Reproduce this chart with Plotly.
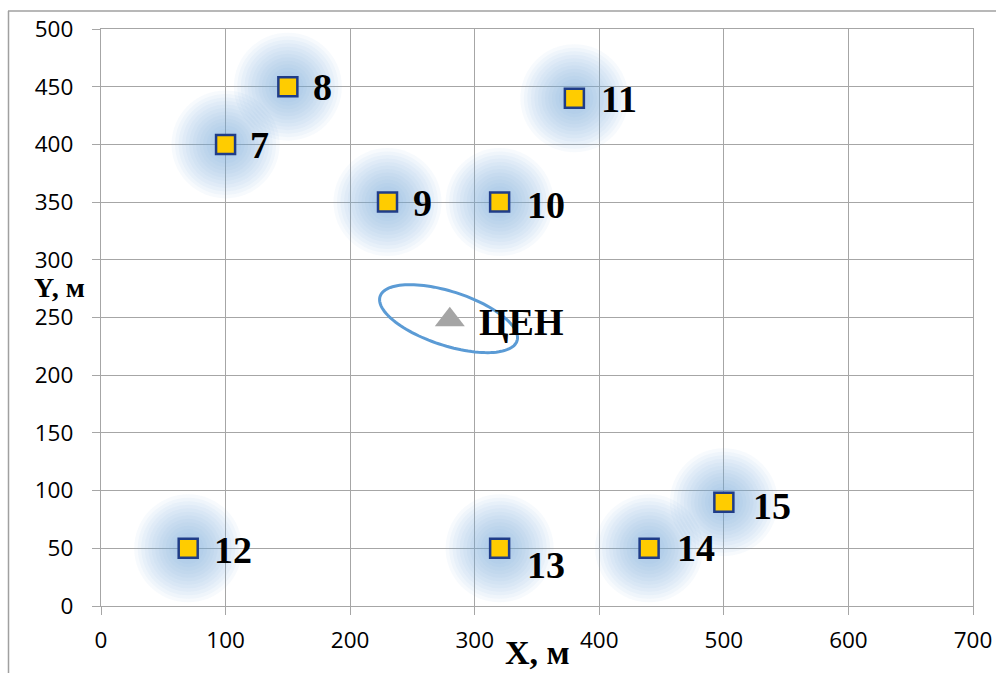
import numpy as np
import plotly.graph_objects as go

# Data
point_labels = ["7", "8", "9", "10", "11", "12", "13", "14", "15"]
point_x = [100, 150, 230, 320, 380, 70, 320, 440, 500]
point_y = [400, 450, 350, 350, 440, 50, 50, 50, 90]
center_label = "ЦЕН"
center_x = [280]
center_y = [248]
x_ticks = [0, 100, 200, 300, 400, 500, 600, 700]
y_ticks = [0, 50, 100, 150, 200, 250, 300, 350, 400, 450, 500]

# label pixel offsets (style)
label_dx = [24, 25, 25, 27, 27, 26, 27, 28, 29]
label_dy = [-1, 0, -1, -3, -1, -2, -17, 0, -4]

W, H = 996, 673
ML, MR, MT, MB = 101, 23, 29, 67
PW, PH = W - ML - MR, H - MT - MB
px_x = PW / 700.0
px_y = PH / 500.0

def paper_x(px):
    return (px - ML) / PW

def paper_y(py):
    return 1 - (py - MT) / PH

fig = go.Figure()

# glow halos
for size in range(108, 22, -7):
    fig.add_trace(go.Scatter(
        x=point_x, y=point_y, mode="markers",
        marker=dict(symbol="circle", size=size, color="rgba(125,168,222,0.06)", line=dict(width=0)),
        hoverinfo="skip", showlegend=False))

fig.add_trace(go.Scatter(
    x=point_x, y=point_y, mode="markers",
    marker=dict(symbol="square", size=19, color="#FFCC00", line=dict(color="#1F3C88", width=2.5)),
    showlegend=False, cliponaxis=False, hoverinfo="skip"))

for lab, x, y, dx, dy in zip(point_labels, point_x, point_y, label_dx, label_dy):
    fig.add_annotation(x=x, y=y, text="<b>%s</b>" % lab, showarrow=False,
                       xanchor="left", yanchor="middle", xshift=dx - 2, yshift=dy,
                       font=dict(family="Liberation Serif", size=38, color="black"))

fig.add_trace(go.Scatter(
    x=center_x, y=center_y, mode="markers",
    marker=dict(symbol="triangle-up", size=26, color="#A5A5A5"),
    showlegend=False, cliponaxis=False, hoverinfo="skip"))
fig.add_annotation(x=center_x[0], y=center_y[0], text="<b>%s</b>" % center_label, showarrow=False,
                   xanchor="left", yanchor="middle", xshift=27, yshift=-2,
                   font=dict(family="Liberation Serif", size=38, color="black"))

# ellipse around center (drawn in pixel units then converted)
a_px, b_px, ang = 72, 27, np.deg2rad(-18)
t = np.linspace(0, 2 * np.pi, 120)
ex = a_px * np.cos(t) * np.cos(ang) - b_px * np.sin(t) * np.sin(ang)
ey = a_px * np.cos(t) * np.sin(ang) + b_px * np.sin(t) * np.cos(ang)
cx, cy = center_x[0] - 1, center_y[0] + 1
path = "M " + " L ".join("%.3f,%.3f" % (cx + dx / px_x, cy + dy / px_y) for dx, dy in zip(ex, ey)) + " Z"
fig.add_shape(type="path", path=path, xref="x", yref="y", line=dict(color="#5B9BD5", width=3))

# outer frame (page coords: left x=8, top y=11)
fig.add_shape(type="line", xref="paper", yref="paper", x0=paper_x(8), x1=paper_x(W + 2),
              y0=paper_y(11), y1=paper_y(11), line=dict(color="#A0A0A0", width=1.5))
fig.add_shape(type="line", xref="paper", yref="paper", x0=paper_x(8.5), x1=paper_x(8.5),
              y0=paper_y(11), y1=paper_y(H + 2), line=dict(color="#A0A0A0", width=1.5))

fig.add_annotation(text="<b>X, м</b>", xref="paper", yref="paper",
                   x=paper_x(537), y=paper_y(652), xanchor="center", yanchor="middle",
                   showarrow=False, font=dict(family="Liberation Serif", size=34, color="black"))
fig.add_annotation(text="<b>Y, м</b>", xref="paper", yref="paper",
                   x=paper_x(59), y=paper_y(287), xanchor="center", yanchor="middle",
                   showarrow=False, font=dict(family="Liberation Serif", size=28, color="black"))

axis_common = dict(showgrid=True, gridcolor="#A6A6A6", gridwidth=1.3, automargin=False,
                   showline=True, linecolor="#A6A6A6", linewidth=1.3, mirror=True,
                   ticks="outside", ticklen=8, tickcolor="#A6A6A6", tickwidth=1.3,
                   zeroline=False, tickfont=dict(family="Open Sans", size=22.5, color="black"))
fig.update_xaxes(range=[0, 700], tickvals=x_ticks, ticktext=[str(v) for v in x_ticks],
                 ticklabelstandoff=6, **axis_common)
fig.update_yaxes(range=[0, 500], tickvals=y_ticks, ticktext=[str(v) for v in y_ticks],
                 ticklabelstandoff=14, **axis_common)

fig.update_layout(width=W, height=H, margin=dict(l=ML, r=MR, t=MT, b=MB),
                  plot_bgcolor="white", paper_bgcolor="white", hovermode=False)
fig.write_html("out.html", config={"displayModeBar": False},
               post_script="document.body.style.margin='0';document.documentElement.style.overflow='hidden';document.body.style.overflow='hidden';")
